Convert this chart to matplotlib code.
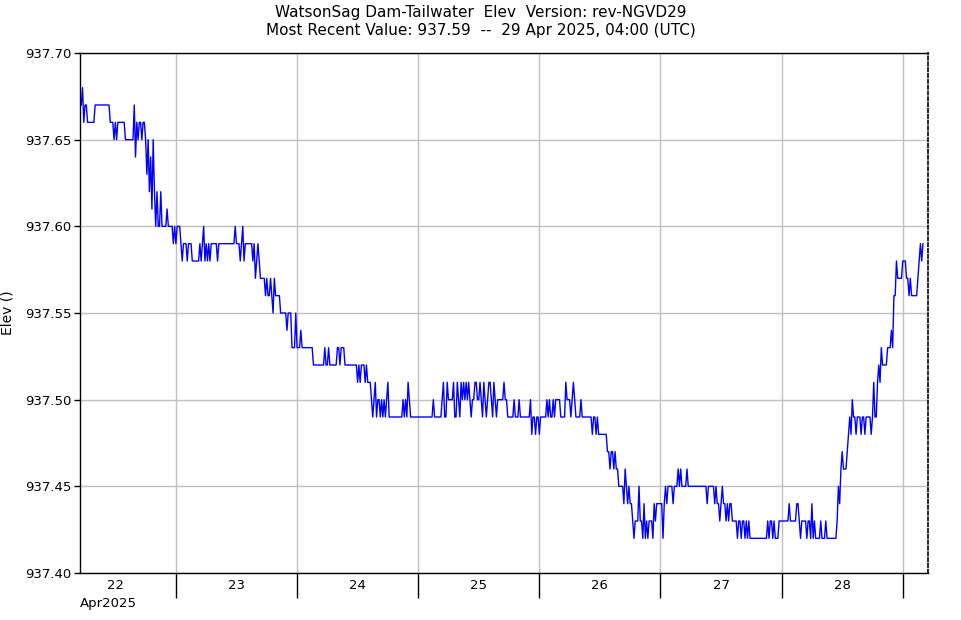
import numpy as np
import matplotlib
matplotlib.use('Agg')
import matplotlib.pyplot as plt
import matplotlib.dates as mdates
from datetime import datetime, timedelta

##Elevation readings every 15 min, stored as runs of (hundredths above 937.00, number of readings)
start = datetime(2025, 4, 22, 5, 0)
step = timedelta(minutes=15)

day22 = [(67,2),(68,1),(66,1),(67,2),(66,6),(67,12),(66,3),(65,1),(66,1),(65,1),(66,6),(65,7),
         (67,1),(64,1),(66,1),(65,1),(66,2),(65,1),(66,2),(65,1),(63,1),(65,1),(62,1),(64,1),
         (61,1),(65,1),(62,1),(60,1),(62,1),(60,2),(62,1),(60,4),(61,1),(60,4),(59,1),(60,1),
         (59,1),(60,3),(59,1),(58,1),(59,3),(58,1),(59,3),(58,6),(59,1),(58,1),(59,1),(60,1),
         (58,1),(59,1),(58,1),(59,1),(58,1),(59,5),(58,1),(59,7)]
day23 = [(59,6),(60,1),(59,3),(58,1),(59,1),(60,1),(58,1),(59,6),(58,1),(59,1),(57,1),(58,1),
         (59,1),(58,1),(57,4),(56,1),(57,1),(56,2),(57,1),(56,1),(55,1),(57,1),(56,4),(55,5),
         (54,1),(55,3),(53,3),(55,1),(53,3),(54,1),(53,9),(52,9),(53,1),(52,2),(53,1),(52,6),
         (53,2),(52,1),(53,3),(52,10),(51,1),(52,1),(51,1),(52,3),(51,1),(52,1),(51,1)]
day24 = [(51,2),(50,1),(49,1),(50,1),(51,1),(49,1),(50,2),(49,1),(50,1),(49,1),(50,1),(49,1),
         (50,1),(51,1),(49,11),(50,1),(49,1),(50,1),(49,1),(51,1),(50,1),(49,18),(50,1),(49,6),
         (50,1),(51,1),(49,2),(51,1),(50,4),(51,1),(49,2),(51,1),(50,1),(49,1),(51,1),(50,1),
         (51,1),(50,1),(51,1),(50,1),(51,1),(50,1),(49,1),(50,2),(51,2),(50,2),(51,1),(50,1),
         (49,1),(51,1),(50,1),(49,1),(50,1),(51,2),(50,1),(49,1),(51,1),(50,1),(49,1),(50,5),
         (51,1),(50,2),(49,5)]
day25 = [(50,1),(49,3),(50,1),(49,8),(50,1),(48,1),(49,2),(48,1),(49,2),(48,1),(49,5),(50,1),
         (49,1),(50,1),(49,2),(50,1),(49,1),(50,4),(49,4),(51,1),(50,3),(49,1),(50,1),(51,1),
         (50,1),(49,4),(50,1),(49,8),(48,1),(49,2),(48,1),(49,1),(48,7),(47,2),(46,1),(47,2),
         (46,1),(47,1),(46,2),(45,4),(44,1),(46,1),(45,1),(44,1),(45,1),(44,2),(43,1),(42,1),
         (43,3),(45,1),(43,2),(42,1),(44,1),(42,1),(43,1),(42,1),(43,3),(42,1),(44,1),(43,1),
         (44,2)]
day26 = [(44,3),(42,1),(44,1),(45,1),(44,1),(45,4),(44,1),(45,3),(46,1),(45,1),(46,1),(45,4),
         (46,1),(45,15),(44,1),(45,5),(44,1),(45,1),(44,2),(43,1),(44,1),(45,1),(44,2),(43,1),
         (44,1),(43,1),(44,2),(43,4),(42,1),(43,2),(42,1),(43,2),(42,1),(43,1),(42,1),(43,1),
         (42,14),(43,1),(42,1),(43,2),(42,1),(43,1),(42,3),(43,8),(44,1),(43,5),(44,2)]
day27 = [(43,1),(42,1),(43,4),(42,1),(43,2),(42,1),(44,1),(42,1),(43,1),(42,4),(43,1),(42,3),
         (43,1),(42,8),(43,1),(45,1),(44,1),(46,1),(47,1),(46,3),(47,1),(48,1),(49,1),(48,1),
         (50,1),(49,2),(48,1),(49,3),(48,1),(49,2),(48,1),(49,4),(48,1),(49,1),(51,1),(49,2),
         (51,1),(52,1),(51,1),(53,1),(52,4),(53,3),(54,1),(53,1),(56,2),(58,1),(57,4),(58,3),
         (57,2),(56,1),(57,1),(56,5),(57,1),(58,1),(59,1),(58,1),(59,1)]

runs = day22 + day23 + day24 + day25 + day26 + day27
elev = []
for v, n in runs:
    elev += [937 + v/100.0]*n
elev = np.array(elev)
times = [start + i*step for i in range(elev.size)]

fig = plt.figure(figsize=(9.61, 6.2), dpi=100)
ax = fig.add_axes([80/961, 47/620, 848/961, 520/620])

ax.plot(times, elev, color='#0000ff', linewidth=1.0)

ax.set_xlim(datetime(2025, 4, 22, 5, 0), datetime(2025, 4, 29, 5, 0))
ax.set_ylim(937.40, 937.70)
ax.set_yticks(np.arange(937.40, 937.701, 0.05))
ax.yaxis.set_major_formatter(matplotlib.ticker.FormatStrFormatter('%.2f'))

ax.xaxis.set_major_locator(mdates.DayLocator())
ax.xaxis.set_major_formatter(matplotlib.ticker.NullFormatter())
ax.xaxis.set_minor_locator(mdates.HourLocator(byhour=[12]))
ax.xaxis.set_minor_formatter(mdates.DateFormatter('%d'))
ax.tick_params(axis='x', which='major', length=18, width=1, color='black')
ax.tick_params(axis='x', which='minor', length=0, pad=4, labelsize=9.5)
ax.tick_params(axis='y', which='major', length=4, width=1, labelsize=9.5, pad=2)

ax.grid(True, which='major', color='#c0c0c0', linewidth=1)
ax.set_axisbelow(True)
for s in ['left', 'bottom', 'top']:
    ax.spines[s].set_color('black')
    ax.spines[s].set_linewidth(1)
ax.spines['right'].set_linestyle((0, (2, 1.5)))
ax.spines['right'].set_linewidth(1.2)

ax.set_ylabel('Elev ()', fontsize=10, labelpad=8)
ax.text(0, -0.058, 'Apr2025', transform=ax.transAxes, fontsize=9.5, ha='left', va='center')

fig.text(0.5, 1 - 12/620, 'WatsonSag Dam-Tailwater  Elev  Version: rev-NGVD29',
         ha='center', va='center', fontsize=11)
fig.text(0.5, 1 - 31/620, 'Most Recent Value: 937.59  --  29 Apr 2025, 04:00 (UTC)',
         ha='center', va='center', fontsize=11)

plt.savefig('out.png', dpi=100)
